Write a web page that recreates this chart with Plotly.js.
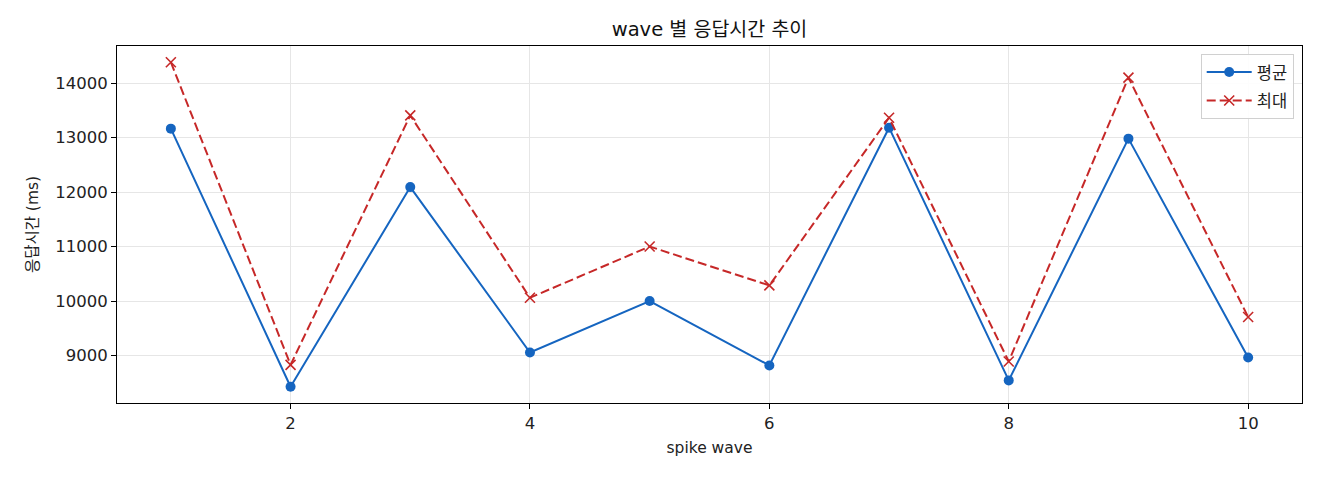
<!DOCTYPE html>
<html>
<head>
<meta charset="utf-8">
<script src="https://cdn.plot.ly/plotly-3.0.1.min.js"></script>
<style>
  html, body { margin: 0; padding: 0; background: #fff; }
  #chart { width: 1320px; height: 480px; }
</style>
</head>
<body>
<div id="chart"></div>
<script>
// wave 번호
var waves = [1, 2, 3, 4, 5, 6, 7, 8, 9, 10];
// 평균 응답시간 (ms)
var avgMs = [13165, 8425, 12092, 9055, 10000, 8817, 13183, 8542, 12982, 8963];
// 최대 응답시간 (ms)
var maxMs = [14385, 8828, 13408, 10060, 11000, 10286, 13366, 8890, 14103, 9707];

var FONT = "DejaVu Sans, 'Noto Sans CJK KR', sans-serif";

var avgTrace = {
        x: waves,
        y: avgMs,
        name: "평균",
        legendgroup: "avg",
        mode: "lines+markers",
        type: "scatter",
        line: {color: "#1565c0", width: 2},
        marker: {color: "#1565c0", size: 10, symbol: "circle"}
};

var maxTrace = {
        x: waves,
        y: maxMs,
        name: "최대",
        legendgroup: "max",
        mode: "lines+markers",
        type: "scatter",
        line: {color: "#c62828", width: 2, dash: "9px,4px"},
        marker: {color: "#c62828", size: 10, symbol: "x-thin-open",
                 line: {color: "#c62828", width: 1.6}}
};

var axisCommon = {
        showline: true,
        mirror: true,
        linecolor: "#000",
        linewidth: 1,
        ticks: "outside",
        ticklen: 5,
        tickcolor: "#000",
        showgrid: true,
        gridcolor: "#e6e6e6",
        gridwidth: 1,
        zeroline: false,
        tickfont: {family: FONT, size: 16.5, color: "#222"}
};

var layout = {
        width: 1320,
        height: 480,
        margin: {l: 117, r: 18, t: 46, b: 77},
        paper_bgcolor: "#fff",
        plot_bgcolor: "#fff",
        font: {family: FONT, color: "#222"},
        title: {
                text: "wave 별 응답시간 추이",
                font: {family: FONT, size: 19.5, color: "#111"},
                x: 0.5 + (117 - 18) / 2 / 1320,
                xanchor: "center",
                y: 1 - 29 / 480,
                yanchor: "middle"
        },
        xaxis: Object.assign({}, axisCommon, {
                range: [0.55, 10.45],
                tickvals: [2, 4, 6, 8, 10],
                title: {text: "spike wave", font: {family: FONT, size: 15.5, color: "#222"}, standoff: 10}
        }),
        yaxis: Object.assign({}, axisCommon, {
                range: [8127, 14683],
                tickvals: [9000, 10000, 11000, 12000, 13000, 14000],
                ticktext: ["9000", "10000", "11000", "12000", "13000", "14000"],
                title: {text: "응답시간 (ms)", font: {family: FONT, size: 15.5, color: "#222"}, standoff: 12}
        }),
        legend: {
                x: 0.993,
                xanchor: "right",
                y: 0.978,
                yanchor: "top",
                bgcolor: "rgba(255,255,255,0.9)",
                bordercolor: "#d0d0d0",
                borderwidth: 1,
                tracegroupgap: 4,
                itemwidth: 45,
                font: {family: FONT, size: 16.5, color: "#222"}
        },
        showlegend: true
};

Plotly.newPlot("chart", [avgTrace, maxTrace], layout, {displayModeBar: false, staticPlot: true});
</script>
</body>
</html>
